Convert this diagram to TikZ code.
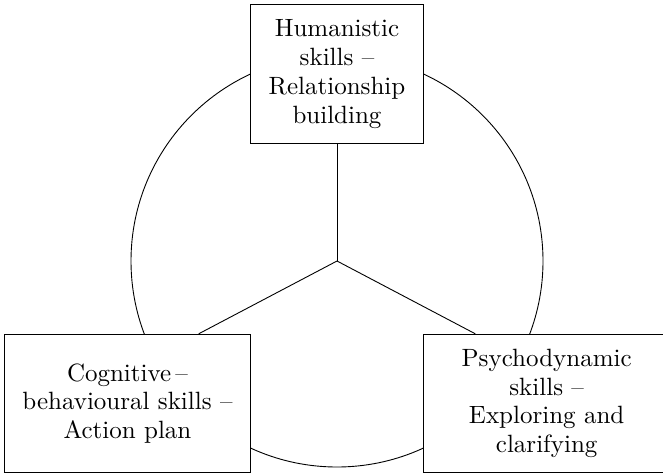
\documentclass[tikz,border=0pt]{standalone}
\usepackage{fontspec}
\setmainfont{lmroman10-regular.otf}
\tikzset{
  skillbox/.style = {draw, line width=1pt, fill=white, align=center, inner sep=0pt,
                     font=\fontsize{25}{28.7}\selectfont},
  spoke/.style    = {line width=0.9pt}
}

\begin{document}
\begin{tikzpicture}[x=1pt, y=-1pt]
  \useasboundingbox (0,0) rectangle (663,474);
  \coordinate (hub) at (337,261);
  \draw[spoke] (hub) circle[radius=206pt];
  \node[skillbox, minimum width=173pt, minimum height=138.6pt]   (hum) at (337,74)      {Humanistic\\skills --\\Relationship\\building};
  \node[skillbox, minimum width=246.5pt, minimum height=138.4pt] (cog) at (127.45,403.5) {Cognitive\,--\\behavioural skills --\\Action plan};
  \node[skillbox, minimum width=246.7pt, minimum height=138.4pt] (psy) at (546.65,403.5) {Psychodynamic\\skills --\\Exploring and\\clarifying};
  \draw[spoke] (hub) -- (hum.south);
  \draw[spoke] (hub) -- ([xshift=-52.5pt]cog.north east);
  \draw[spoke] (hub) -- ([xshift=52.5pt]psy.north west);
\end{tikzpicture}
\end{document}
